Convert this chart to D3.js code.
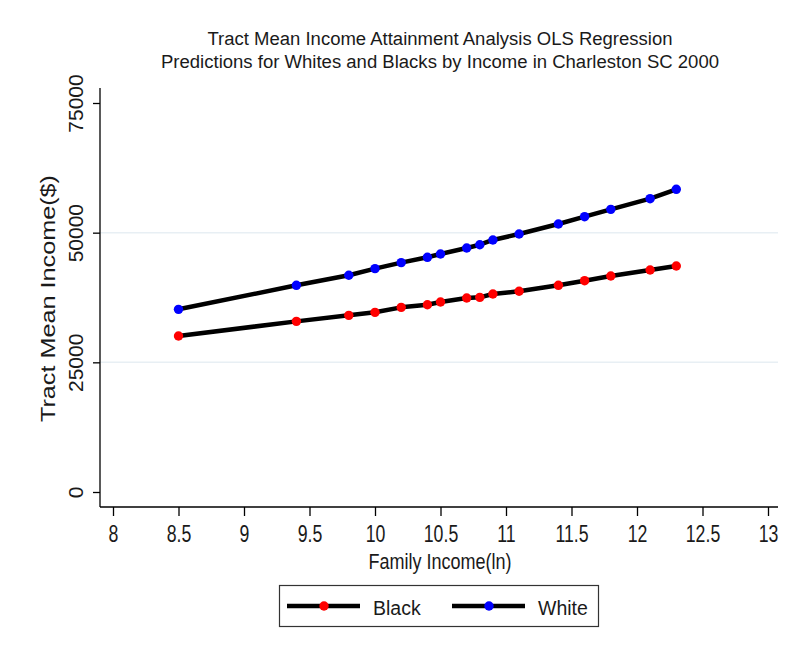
<!DOCTYPE html>
<html>
<head>
<meta charset="utf-8">
<script src="https://cdn.jsdelivr.net/npm/d3@7"></script>
<style>
  html, body { margin: 0; padding: 0; background: #fff; }
  svg { display: block; font-family: "Liberation Sans", Arial, sans-serif; }
</style>
</head>
<body>
<svg id="chart" width="792" height="653"></svg>
<script>
// Predicted tract mean income by log family income
const familyIncome = [8.5, 9.4, 9.8, 10.0, 10.2, 10.4, 10.5, 10.7, 10.8, 10.9, 11.1, 11.4, 11.6, 11.8, 12.1, 12.3];
const blackIncome  = [30080, 32900, 34060, 34640, 35600, 36110, 36630, 37400, 37530, 38170, 38700, 39850, 40740, 41640, 42800, 43570];
const whiteIncome  = [35220, 39850, 41780, 43060, 44220, 45250, 45890, 47040, 47680, 48590, 49740, 51670, 53080, 54500, 56550, 58360];
const xTicks = [8, 8.5, 9, 9.5, 10, 10.5, 11, 11.5, 12, 12.5, 13];
const yTicks = [0, 25000, 50000, 75000];
const seriesNames = ["Black", "White"];
const seriesColors = ["#ff0000", "#0000ff"];
const titleLines = ["Tract Mean Income Attainment Analysis OLS Regression",
                    "Predictions for Whites and Blacks by Income in Charleston SC 2000"];

const svg = d3.select("#chart");
const ink = "#1a1a1a";

const x = d3.scaleLinear().domain([8, 13]).range([113, 768]);
const y = d3.scaleLinear().domain([0, 75000]).range([492, 103]);
const plotLeft = 100, plotRight = 778, plotTop = 88, plotBottom = 507;

// title, two centred lines
const titleWidths = [465, 558];
svg.selectAll("text.title").data(titleLines).join("text")
  .attr("class", "title")
  .attr("x", 440).attr("y", (d, i) => 45 + i * 22.5)
  .attr("text-anchor", "middle")
  .attr("font-size", 18).attr("fill", ink)
  .attr("textLength", (d, i) => titleWidths[i]).attr("lengthAdjust", "spacingAndGlyphs")
  .text(d => d);

// faint horizontal grid
svg.append("g").selectAll("line").data(yTicks.filter(v => v > 0 && v < 75000)).join("line")
  .attr("x1", plotLeft).attr("x2", plotRight)
  .attr("y1", d => y(d)).attr("y2", d => y(d))
  .attr("stroke", "#e8eff4").attr("stroke-width", 1.5);

// y axis
const yAxis = svg.append("g").attr("transform", `translate(${plotLeft},0)`)
  .call(d3.axisLeft(y).tickValues(yTicks).tickSize(7).tickFormat(d3.format("d")));
yAxis.select(".domain").remove();
yAxis.append("line").attr("x1", 0).attr("x2", 0).attr("y1", plotTop).attr("y2", plotBottom)
  .attr("stroke", "#000").attr("stroke-width", 1.3);
yAxis.selectAll(".tick line").attr("stroke", "#000").attr("stroke-width", 1.3);
yAxis.selectAll(".tick text")
  .attr("font-size", 21).attr("fill", ink)
  .attr("font-family", "Liberation Sans, Arial, sans-serif")
  .attr("x", 0).attr("y", 0).attr("dy", null)
  .attr("transform", "translate(-16.7,0) rotate(-90)")
  .attr("text-anchor", "middle");

// x axis
const xAxis = svg.append("g").attr("transform", `translate(0,${plotBottom})`)
  .call(d3.axisBottom(x).tickValues(xTicks).tickSize(9).tickFormat(d => d));
xAxis.select(".domain").remove();
xAxis.append("line").attr("x1", plotLeft).attr("x2", plotRight).attr("y1", 0).attr("y2", 0)
  .attr("stroke", "#000").attr("stroke-width", 1.3);
xAxis.selectAll(".tick line").attr("stroke", "#000").attr("stroke-width", 1.3);
xAxis.selectAll(".tick text")
  .attr("font-size", 23).attr("fill", ink)
  .attr("font-family", "Liberation Sans, Arial, sans-serif")
  .attr("y", 34.7).attr("dy", null)
  .attr("transform", "scale(0.77,1)");

// axis titles
svg.append("text").attr("x", 440).attr("y", 569).attr("text-anchor", "middle")
  .attr("font-size", 22).attr("fill", ink)
  .attr("textLength", 143).attr("lengthAdjust", "spacingAndGlyphs")
  .text("Family Income(ln)");
svg.append("text").attr("transform", "translate(55,298.5) rotate(-90)")
  .attr("text-anchor", "middle").attr("font-size", 21).attr("fill", ink)
  .attr("textLength", 247).attr("lengthAdjust", "spacingAndGlyphs")
  .text("Tract Mean Income($)");

// series: thick black connecting line with coloured markers
const series = [blackIncome, whiteIncome].map((vals, i) => ({
  name: seriesNames[i], color: seriesColors[i],
  pts: familyIncome.map((f, j) => ({ f, v: vals[j] }))
}));
const line = d3.line().x(d => x(d.f)).y(d => y(d.v));
const g = svg.append("g");
series.forEach(s => {
  g.append("path").datum(s.pts).attr("d", line)
    .attr("fill", "none").attr("stroke", "#000").attr("stroke-width", 4.5)
    .attr("stroke-linejoin", "round");
  g.selectAll(null).data(s.pts).join("circle")
    .attr("cx", d => x(d.f)).attr("cy", d => y(d.v)).attr("r", 4.7)
    .attr("fill", s.color);
});

// legend
const lg = svg.append("g");
lg.append("rect").attr("x", 279.5).attr("y", 585.5).attr("width", 319).attr("height", 41)
  .attr("fill", "#fff").attr("stroke", "#333").attr("stroke-width", 1.2);
const legendX = [287, 452];
series.forEach((s, i) => {
  const lx = legendX[i];
  lg.append("line").attr("x1", lx).attr("x2", lx + 73).attr("y1", 606).attr("y2", 606)
    .attr("stroke", "#000").attr("stroke-width", 4.5);
  lg.append("circle").attr("cx", lx + 37).attr("cy", 606).attr("r", 4.7).attr("fill", s.color);
  lg.append("text").attr("x", lx + 86).attr("y", 614.7)
    .attr("font-size", 19.5).attr("fill", ink).text(s.name);
});
</script>
</body>
</html>
